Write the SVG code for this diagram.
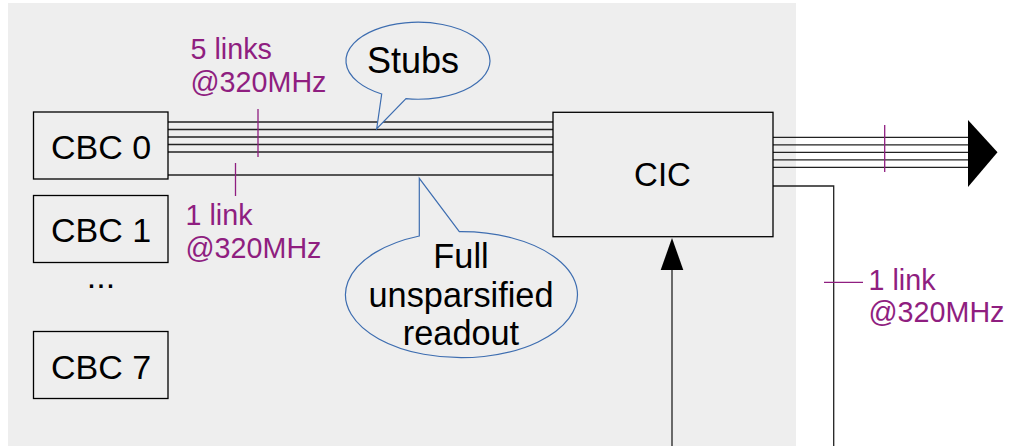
<svg xmlns="http://www.w3.org/2000/svg" width="1012" height="446" viewBox="0 0 1012 446">
  <defs>
    <style>
      .box { fill: #eeeeee; stroke: #000000; stroke-width: 1.3; }
      .lbl { font-family: "Liberation Sans", Arial, sans-serif; fill: #000000; text-anchor: middle; }
      .rate { font-family: "Liberation Sans", Arial, sans-serif; fill: #8f1e80; font-size: 28.7px; }
      .wire { stroke: #222222; stroke-width: 1.3; fill: none; }
      .tick { stroke: #8f1e80; stroke-width: 1.3; fill: none; }
      .bubble { fill: #eeeeee; stroke: #3d6db0; stroke-width: 1.2; }
    </style>
  </defs>

  <!-- module area -->
  <rect id="module" x="8" y="3" width="788" height="446" fill="#eeeeee"/>

  <!-- connectors -->
  <g id="connectors">
    <!-- CBC 0 to CIC: five stub links and one full readout link -->
    <line class="wire" x1="168" y1="122" x2="553" y2="122"/>
    <line class="wire" x1="168" y1="129.5" x2="553" y2="129.5"/>
    <line class="wire" x1="168" y1="137" x2="553" y2="137"/>
    <line class="wire" x1="168" y1="144.5" x2="553" y2="144.5"/>
    <line class="wire" x1="168" y1="152" x2="553" y2="152"/>
    <line class="wire" x1="168" y1="175" x2="553" y2="175"/>
    <line class="tick" x1="258" y1="109" x2="258" y2="157"/>
    <line class="tick" x1="235.5" y1="163" x2="235.5" y2="196"/>

    <!-- CIC output bundle -->
    <line class="wire" x1="770" y1="137.3" x2="970" y2="137.3"/>
    <line class="wire" x1="770" y1="144.8" x2="970" y2="144.8"/>
    <line class="wire" x1="770" y1="152.3" x2="970" y2="152.3"/>
    <line class="wire" x1="770" y1="159.8" x2="970" y2="159.8"/>
    <line class="wire" x1="770" y1="167.3" x2="970" y2="167.3"/>
    <polygon points="968,120 997.5,152.3 968,187" fill="#000000"/>
    <line class="tick" x1="884.7" y1="125" x2="884.7" y2="172"/>

    <!-- CIC side link going down -->
    <polyline class="wire" points="770,186 833.7,186 833.7,446"/>
    <line class="tick" x1="824" y1="282.3" x2="863" y2="282.3"/>

    <!-- input into CIC from below -->
    <line class="wire" x1="672" y1="446" x2="672" y2="268"/>
    <polygon points="672,238 683.3,270 660.7,270" fill="#000000"/>
  </g>

  <!-- link rate labels -->
  <g id="rate-labels">
    <text class="rate" x="190.5" y="58.5">5 links</text>
    <text class="rate" x="190.5" y="91.5">@320MHz</text>
    <text class="rate" x="185.5" y="225">1 link</text>
    <text class="rate" x="185.5" y="257.5">@320MHz</text>
    <text class="rate" x="868.5" y="290">1 link</text>
    <text class="rate" x="868.5" y="322">@320MHz</text>
  </g>

  <g id="cbc0">
    <rect class="box" x="33.5" y="112" width="134.5" height="67"/>
    <text class="lbl" x="101" y="159" font-size="34">CBC 0</text>
  </g>
  <g id="cbc1">
    <rect class="box" x="33.5" y="195.5" width="134.5" height="67"/>
    <text class="lbl" x="101" y="242" font-size="34">CBC 1</text>
  </g>
  <g id="ellipsis">
    <text class="lbl" x="101" y="288" font-size="34">...</text>
  </g>
  <g id="cbc7">
    <rect class="box" x="33.5" y="331.5" width="134.5" height="67"/>
    <text class="lbl" x="101" y="378.5" font-size="34">CBC 7</text>
  </g>

  <g id="cic">
    <rect class="box" x="553" y="112.3" width="220" height="124.4"/>
    <text class="lbl" x="662.5" y="186" font-size="33">CIC</text>
  </g>

  <!-- callouts -->
  <g id="stubs-callout">
    <path class="bubble" d="M 381.7,94 L 376.7,128.7 L 406,98.7 A 72,38.5 0 1 0 381.7,94 Z"/>
    <text class="lbl" x="413" y="72.5" font-size="36">Stubs</text>
  </g>
  <g id="full-readout-callout">
    <path class="bubble" d="M 419.3,236 L 419.3,178.3 L 459.3,231.7 A 116,63 0 1 1 419.3,236 Z"/>
    <text class="lbl" x="461" y="268" font-size="34.3">Full</text>
    <text class="lbl" x="461" y="306.5" font-size="34.3">unsparsified</text>
    <text class="lbl" x="461" y="345" font-size="34.3">readout</text>
  </g>
</svg>
